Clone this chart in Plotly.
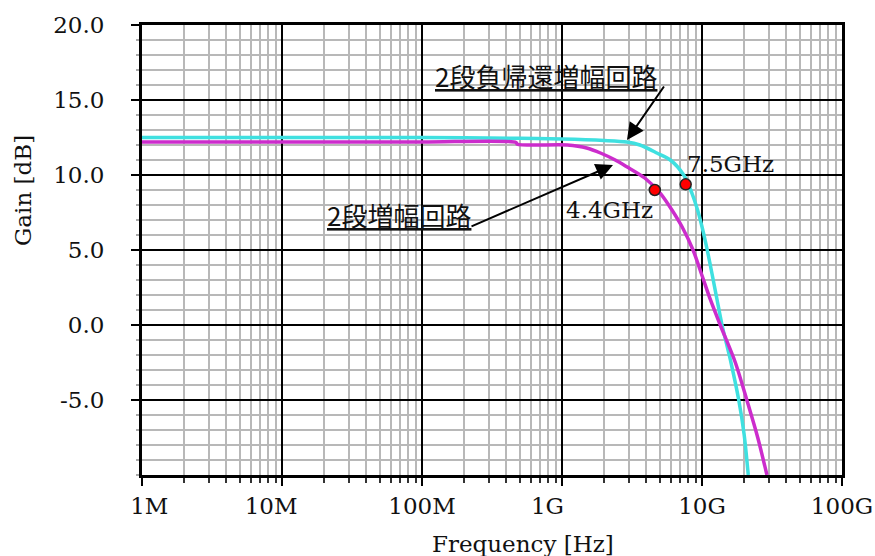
import plotly.graph_objects as go

# ---- data ----
fb_freq = [1e6, 1e7, 1e8, 5e8, 1e9, 2e9, 2.9e9, 3.6e9, 4.8e9, 5.94e9, 7.4e9,
           8.48e9, 9.3e9, 10.0e9, 10.9e9, 11.8e9, 12.8e9, 13.9e9, 16.1e9, 18.3e9, 20.0e9, 21.4e9]
fb_gain = [12.5, 12.5, 12.5, 12.45, 12.4, 12.3, 12.2, 12.0, 11.45, 11.0, 10.0,
           8.78, 7.67, 6.55, 5.0, 3.4, 1.7, 0.0, -2.5, -5.0, -7.3, -10.0]

amp_freq = [1e6, 1e7, 1e8, 4.7e8, 4.8e8, 1.09e9, 1.5e9, 1.9e9, 2.4e9, 2.9e9, 3.9e9, 5.04e9,
            6.1e9, 7.2e9, 8.63e9, 10.0e9, 11.5e9, 13.5e9, 17.3e9, 20.9e9, 25.0e9, 29.1e9]
amp_gain = [12.2, 12.2, 12.2, 12.17, 12.05, 12.0, 11.8, 11.45, 11.0, 10.55, 9.8, 8.78,
            7.67, 6.55, 5.0, 3.3, 1.67, 0.0, -2.5, -5.0, -7.5, -10.0]

marker_freq = [4.6e9, 7.65e9]
marker_gain = [9.0, 9.38]

x_tickvals = [1e6, 1e7, 1e8, 1e9, 1e10, 1e11]
x_ticktext = ["\u00a0\u00a01M", "10M\u00a0\u00a0\u00a0", "100M", "1G\u00a0\u00a0\u00a0\u00a0", "10G", "100G"]
y_tickvals = [-5, 0, 5, 10, 15, 20]
y_ticktext = ["-5.0", "0.0", "5.0", "10.0", "15.0", "20.0"]

label_fb = "2段負帰還増幅回路"
label_amp = "2段増幅回路"
label_f1 = "4.4GHz"
label_f2 = "7.5GHz"

# ---- figure ----
fig = go.Figure()
fig.add_trace(go.Scatter(x=fb_freq, y=fb_gain, mode="lines",
                         line=dict(color="#3fe0e0", width=3.5, shape="spline", smoothing=0.8),
                         name=label_fb, showlegend=False))
fig.add_trace(go.Scatter(x=amp_freq, y=amp_gain, mode="lines",
                         line=dict(color="#cc2ccc", width=3.5, shape="spline", smoothing=0.8),
                         name=label_amp, showlegend=False))
fig.add_trace(go.Scatter(x=marker_freq, y=marker_gain, mode="markers",
                         marker=dict(color="#ff0000", size=11, line=dict(color="#222", width=1.5)),
                         showlegend=False))

minor_x = [m * 10 ** d for d in range(6, 11) for m in range(2, 10)]

serif = "DejaVu Serif"
jp = "Noto Sans CJK JP"
tfont = dict(family=serif, size=23, color="#111")

fig.update_xaxes(type="log", range=[6, 11], automargin=False,
                 tickmode="array", tickvals=x_tickvals, ticktext=x_ticktext,
                 showgrid=True, gridcolor="black", gridwidth=2,
                 showline=True, linecolor="black", linewidth=3, mirror=True,
                 ticks="outside", ticklen=8, tickwidth=2, tickcolor="black",
                 ticklabelstandoff=0,
                 tickfont=tfont,
                 minor=dict(tickmode="array", tickvals=minor_x, showgrid=True,
                            gridcolor="#b8b8b8", gridwidth=2,
                            ticks="outside", ticklen=5, tickwidth=1.5, tickcolor="#333"),
                 zeroline=False)
fig.update_yaxes(range=[-10, 20], automargin=False,
                 tickmode="array", tickvals=y_tickvals, ticktext=y_ticktext,
                 showgrid=True, gridcolor="black", gridwidth=2,
                 showline=True, linecolor="black", linewidth=3, mirror=True,
                 ticks="outside", ticklen=8, tickwidth=2, tickcolor="black",
                 ticklabelstandoff=22,
                 tickfont=tfont,
                 minor=dict(dtick=1, showgrid=True, gridcolor="#b8b8b8", gridwidth=2,
                            ticks="outside", ticklen=3, tickwidth=1.5, tickcolor="#aaa"),
                 zeroline=False)

L, R, T, B = 142, 33, 25, 81
W, H = 875, 556
pw, ph = W - L - R, H - T - B

def px(xp):
    return (xp - L) / pw

def py(yp):
    return (H - B - yp) / ph

def note(text, xp, yp, font, **kw):
    return dict(text=text, x=px(xp), y=py(yp), xref="paper", yref="paper",
                xanchor="center", yanchor="middle", showarrow=False, font=font, **kw)

jfont = dict(family=jp, size=26, color="#111")
annotations = [
    note("Gain [dB]", 23, 190, tfont, textangle=-90),
    note("Frequency [Hz]", 523, 544, tfont),
    note("<u>" + label_fb + "</u>", 546, 75, jfont),
    note("<u>" + label_amp + "</u>", 399, 214, jfont),
    note(label_f2, 730, 164, tfont),
    note(label_f1, 609, 210, tfont),
    # arrows (tail offsets in pixels)
    dict(text="", x=px(627), y=py(140), xref="paper", yref="paper",
         ax=665 - 627, ay=85 - 140, axref="pixel", ayref="pixel",
         showarrow=True, arrowhead=2, arrowsize=1.7, arrowwidth=2, arrowcolor="black"),
    dict(text="", x=px(613), y=py(165), xref="paper", yref="paper",
         ax=470 - 613, ay=227 - 165, axref="pixel", ayref="pixel",
         showarrow=True, arrowhead=2, arrowsize=1.7, arrowwidth=2, arrowcolor="black"),
]

fig.update_layout(width=W, height=H, margin=dict(l=L, r=R, t=T, b=B, autoexpand=False),
                  paper_bgcolor="white", plot_bgcolor="white",
                  annotations=annotations, showlegend=False)

fig.write_html("out.html")
